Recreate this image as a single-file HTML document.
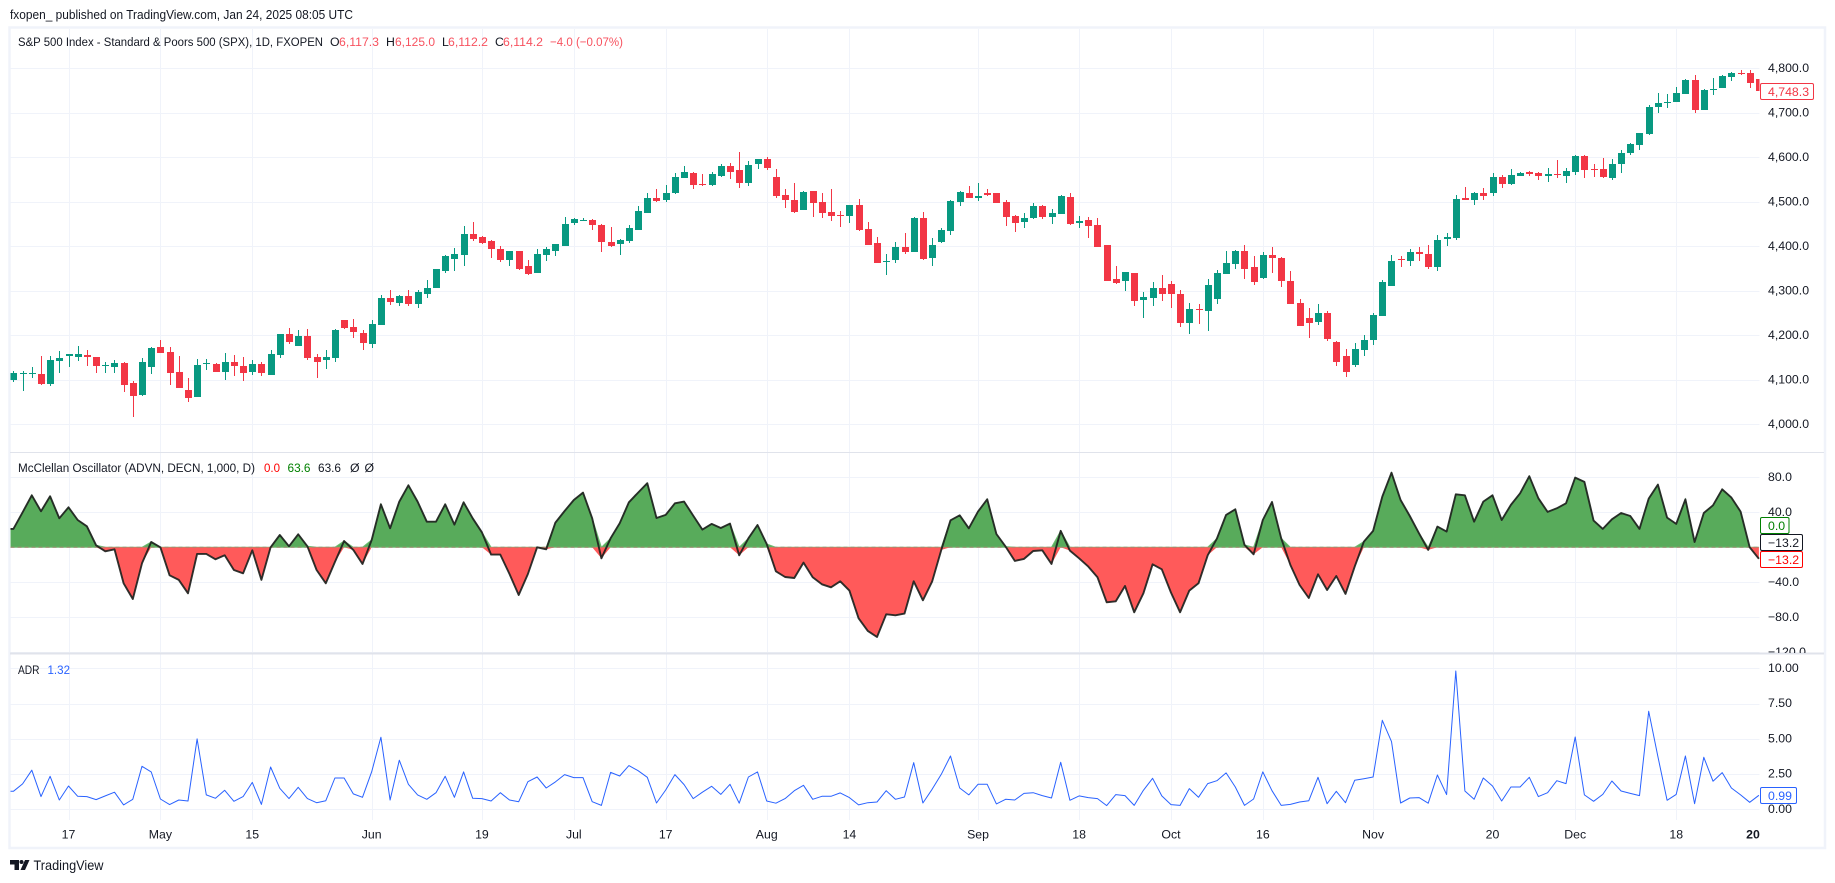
<!DOCTYPE html>
<html lang="en">
<head>
<meta charset="utf-8">
<title>S&amp;P 500 Index with McClellan Oscillator and ADR</title>
<style>
html,body{margin:0;padding:0;background:#fff;width:1835px;height:883px;overflow:hidden}
svg{display:block;font-family:"Liberation Sans",sans-serif}
text{fill:#131722;font-size:12.3px}
</style>
</head>
<body>
<svg id="chart" width="1835" height="883" viewBox="0 0 1835 883" xmlns="http://www.w3.org/2000/svg">
  <defs>
    <clipPath id="plot-clip"><rect x="10.5" y="29" width="1749" height="791"/></clipPath>
    <clipPath id="axis-clip"><rect x="1760" y="454" width="64" height="199"/></clipPath>
  </defs>
  <rect x="0" y="0" width="1835" height="883" fill="#ffffff"/>
  <text x="10" y="19" textLength="343" lengthAdjust="spacingAndGlyphs" style="font-size:13px">fxopen_ published on TradingView.com, Jan 24, 2025 08:05 UTC</text>

  <g id="grid"></g>

  <rect x="9.5" y="27.5" width="1815.5" height="320.5" fill="none" stroke="none"/>
  <path d="M9.5 27.5H1825V848H9.5Z" fill="none" stroke="#f0f3fa" stroke-width="2.5"/>
  <line x1="10" x2="1824" y1="452.5" y2="452.5" stroke="#e0e3eb" stroke-width="1"/>
  <line x1="10" x2="1824" y1="653.5" y2="653.5" stroke="#e0e3eb" stroke-width="2"/>

  <g id="candles" clip-path="url(#plot-clip)"></g>
  <g id="oscillator" clip-path="url(#plot-clip)"></g>
  <g id="adr" clip-path="url(#plot-clip)"></g>
  <g id="axes"></g>

  <g>
    <text x="18" y="46" textLength="305" lengthAdjust="spacingAndGlyphs">S&amp;P 500 Index - Standard &amp; Poors 500 (SPX), 1D, FXOPEN</text>
    <text x="330" y="46">O</text>
    <text x="339" y="46" textLength="40" lengthAdjust="spacingAndGlyphs" style="fill:#f7525f">6,117.3</text>
    <text x="386" y="46">H</text>
    <text x="395" y="46" textLength="40" lengthAdjust="spacingAndGlyphs" style="fill:#f7525f">6,125.0</text>
    <text x="442" y="46">L</text>
    <text x="448" y="46" textLength="40" lengthAdjust="spacingAndGlyphs" style="fill:#f7525f">6,112.2</text>
    <text x="495" y="46">C</text>
    <text x="503" y="46" textLength="40" lengthAdjust="spacingAndGlyphs" style="fill:#f7525f">6,114.2</text>
    <text x="550" y="46" textLength="73" lengthAdjust="spacingAndGlyphs" style="fill:#f7525f">−4.0 (−0.07%)</text>
  </g>
  <g>
    <text x="18" y="472" textLength="237" lengthAdjust="spacingAndGlyphs">McClellan Oscillator (ADVN, DECN, 1,000, D)</text>
    <text x="264" y="472" textLength="16" lengthAdjust="spacingAndGlyphs" style="fill:#ff0000">0.0</text>
    <text x="287.5" y="472" textLength="23" lengthAdjust="spacingAndGlyphs" style="fill:#008000">63.6</text>
    <text x="318" y="472" textLength="23" lengthAdjust="spacingAndGlyphs">63.6</text>
    <text x="350" y="472">Ø</text>
    <text x="364.5" y="472">Ø</text>
  </g>
  <g>
    <text x="18" y="674" textLength="21.5" lengthAdjust="spacingAndGlyphs">ADR</text>
    <text x="47.5" y="674" textLength="22.5" lengthAdjust="spacingAndGlyphs" style="fill:#2962ff">1.32</text>
  </g>

  <g>
    <rect x="1760.5" y="83.5" width="53" height="16" rx="1.5" fill="#fff" stroke="#f23645"/>
    <text x="1768" y="96" style="fill:#f23645">4,748.3</text>
    <rect x="1760.5" y="517.5" width="28.5" height="16" rx="1.5" fill="#fff" stroke="#008000"/>
    <text x="1768" y="530" style="fill:#008000">0.0</text>
    <rect x="1760.5" y="534.5" width="42" height="16" rx="1.5" fill="#fff" stroke="#131722"/>
    <text x="1768" y="547">−13.2</text>
    <rect x="1760.5" y="551.5" width="42" height="16" rx="1.5" fill="#fff" stroke="#ff0000"/>
    <text x="1768" y="564" style="fill:#ff0000">−13.2</text>
    <rect x="1760.5" y="787.5" width="36" height="16" rx="1.5" fill="#fff" stroke="#2962ff"/>
    <text x="1768" y="800" style="fill:#2962ff">0.99</text>
  </g>

  <g>
    <path d="M10 860h9v10h-4.5v-5.5H10z" fill="#131722"/>
    <circle cx="21.5" cy="862" r="2" fill="#131722"/>
    <path d="M29.5 860 25 870h-4.5L25 860z" fill="#131722"/>
    <text x="33.5" y="870" textLength="70" lengthAdjust="spacingAndGlyphs" style="font-size:14px">TradingView</text>
  </g>
</svg>

<script>
const opens = [
4100,4114,4114,4113,4091,4142,4154,4151,4156,4151,
4132,4129,4138,4093,4066,4129,4174,4163,4118,4077,
4061,4136,4136,4118,4140,4131,4118,4136,4111,4156,
4203,4176,4198,4151,4145,4149,4234,4219,4205,4180,
4223,4284,4273,4288,4271,4293,4306,4345,4372,4381,
4428,4421,4413,4395,4370,4390,4356,4340,4381,4390,
4401,4453,4457,4459,4448,4410,4405,4412,4437,4475,
4509,4504,4520,4554,4565,4540,4538,4558,4581,4572,
4542,4585,4596,4556,4515,4504,4482,4524,4500,4477,
4470,4468,4493,4439,4407,4365,4369,4398,4387,4464,
4374,4410,4434,4500,4520,4509,4520,4520,4500,4468,
4455,4464,4491,4466,4473,4511,4452,4459,4448,4403,
4327,4322,4340,4279,4284,4306,4315,4293,4228,4259,
4255,4282,4338,4360,4390,4354,4329,4381,4374,4322,
4273,4239,4230,4250,4185,4154,4133,4167,4190,4244,
4311,4372,4367,4387,4383,4354,4417,4419,4509,4504,
4520,4520,4556,4540,4558,4567,4565,4558,4563,4558,
4567,4603,4574,4574,4554,4585,4610,4628,4652,4713,
4721,4724,4742,4774,4706,4751,4756,4781,4790,4790,4776];
const highs = [
4120,4120,4129,4154,4154,4165,4157,4176,4167,4151,
4140,4145,4140,4097,4149,4174,4190,4174,4154,4104,
4147,4147,4138,4160,4156,4151,4145,4140,4167,4203,
4216,4212,4214,4158,4167,4214,4234,4237,4212,4234,
4291,4302,4291,4302,4302,4324,4349,4381,4397,4446,
4455,4424,4415,4401,4390,4390,4370,4393,4399,4406,
4466,4464,4464,4462,4450,4443,4416,4448,4491,4520,
4529,4538,4565,4581,4567,4563,4567,4585,4587,4612,
4592,4596,4601,4574,4529,4542,4524,4524,4520,4529,
4479,4493,4506,4455,4421,4383,4410,4430,4466,4477,
4419,4441,4504,4524,4536,4542,4529,4520,4504,4470,
4475,4497,4493,4484,4515,4520,4468,4466,4464,4403,
4356,4342,4340,4297,4320,4336,4322,4302,4273,4270,
4327,4347,4390,4392,4403,4378,4387,4399,4376,4345,
4282,4261,4270,4255,4187,4169,4183,4201,4250,4324,
4381,4378,4394,4399,4403,4425,4430,4515,4533,4522,
4531,4565,4560,4574,4567,4569,4567,4576,4594,4576,
4605,4605,4585,4599,4596,4617,4632,4655,4718,4745,
4742,4758,4776,4785,4754,4778,4785,4792,4796,4796,4776];
const lows = [
4095,4075,4105,4089,4086,4115,4127,4142,4131,4115,
4115,4115,4073,4016,4064,4113,4160,4088,4082,4050,
4061,4122,4118,4100,4109,4097,4111,4109,4111,4149,
4180,4176,4145,4104,4124,4140,4214,4194,4167,4171,
4223,4268,4266,4266,4262,4284,4306,4340,4345,4355,
4412,4405,4375,4366,4356,4347,4336,4338,4368,4379,
4401,4448,4457,4437,4387,4398,4381,4408,4437,4475,
4500,4500,4518,4554,4529,4536,4536,4556,4551,4531,
4536,4574,4572,4509,4486,4475,4482,4466,4464,4457,
4443,4452,4434,4403,4363,4336,4363,4383,4387,4369,
4356,4407,4425,4491,4509,4502,4513,4497,4446,4432,
4441,4461,4461,4450,4473,4448,4441,4419,4398,4322,
4315,4300,4266,4239,4266,4277,4262,4219,4203,4225,
4210,4270,4338,4349,4327,4313,4327,4340,4309,4270,
4221,4194,4223,4187,4131,4106,4129,4154,4178,4244,
4311,4354,4356,4367,4349,4345,4401,4414,4504,4493,
4504,4513,4531,4538,4558,4558,4549,4545,4554,4542,
4560,4554,4556,4554,4549,4565,4605,4617,4650,4700,
4711,4724,4742,4700,4706,4740,4756,4772,4785,4756,4748];
const closes = [
4115,4115,4115,4091,4145,4149,4157,4158,4151,4131,
4133,4138,4088,4064,4140,4172,4160,4115,4082,4059,
4133,4138,4118,4140,4131,4115,4136,4115,4158,4203,
4185,4198,4149,4140,4151,4212,4216,4207,4183,4225,
4284,4275,4288,4271,4297,4306,4349,4379,4383,4428,
4417,4408,4393,4370,4390,4349,4338,4383,4393,4406,
4451,4462,4459,4448,4410,4401,4414,4441,4479,4509,
4502,4520,4556,4567,4538,4538,4563,4581,4567,4542,
4583,4596,4576,4513,4504,4477,4522,4497,4475,4468,
4468,4493,4437,4403,4363,4367,4398,4387,4464,4372,
4403,4437,4502,4522,4509,4513,4515,4497,4466,4452,
4464,4491,4466,4475,4513,4450,4457,4446,4398,4322,
4318,4342,4277,4286,4306,4293,4293,4228,4259,4257,
4313,4340,4363,4390,4349,4320,4381,4374,4322,4270,
4221,4228,4250,4192,4140,4118,4169,4190,4246,4320,
4367,4369,4387,4383,4354,4414,4421,4506,4504,4520,
4513,4556,4540,4560,4565,4563,4558,4563,4560,4569,
4603,4572,4572,4556,4585,4610,4630,4655,4713,4722,
4724,4745,4774,4706,4751,4754,4783,4790,4787,4767,4748];
const oscillatorValues = [
21.0,40.0,59.4,41.1,58.3,33.1,45.7,31.2,24.0,2.3,
-4.6,-2.3,-41.1,-59.1,-18.3,6.1,0,-32.0,-37.3,-52.6,
-7.6,-7.6,-13.7,-9.1,-25.9,-29.7,-3.4,-37.3,0,14.1,
1.1,14.9,1.1,-25.9,-41.1,-16.8,7.2,-3.0,-19.1,8.4,
49.1,21.7,52.2,70.9,52.2,29.3,29.3,49.1,25.9,51.4,
33.1,17.1,-8.4,-8.4,-30.5,-54.5,-30.5,0,-2.3,28.2,
41.5,54.1,62.5,33.1,-12.6,10.3,27.4,51.4,62.5,73.2,
33.5,37.0,50.3,52.2,36.2,20.2,26.7,22.1,27.1,-9.1,
10.3,25.5,3.8,-27.4,-33.9,-35.1,-17.5,-34.3,-42.3,-45.7,
-38.9,-49.5,-81.2,-95.6,-102.5,-76.6,-77.7,-75.8,-38.9,-60.6,
-39.2,-3.0,30.9,36.6,21.7,40.8,54.9,15.2,0.8,-15.6,
-13.3,-4.2,-3.4,-19.1,18.7,-3.8,-12.6,-22.1,-34.3,-62.9,
-61.7,-44.2,-74.3,-52.6,-19.4,-25.1,-51.8,-74.3,-49.5,-41.1,
-9.1,9.9,37.0,43.4,2.7,-8.0,31.2,51.8,10.3,-20.2,
-43.1,-58.0,-30.9,-48.8,-32.8,-53.3,-22.1,6.5,18.7,57.9,
85.3,54.1,35.8,16.0,-3.0,23.6,17.9,60.6,59.4,29.3,
52.2,59.4,31.2,48.4,61.7,81.2,56.0,40.4,44.6,50.3,
79.6,74.7,30.5,21.0,32.0,39.2,35.8,21.0,55.6,71.6,
33.9,26.7,54.9,6.1,39.2,48.0,66.3,56.8,40.8,0,-13.2];
const adrValues = [
1.28,1.80,2.77,0.90,2.34,0.66,1.65,0.92,0.90,0.69,
0.95,1.21,0.31,0.71,3.05,2.65,0.73,0.33,0.66,0.59,
4.99,1.02,0.78,1.35,0.57,0.90,1.91,0.35,3.00,1.49,
0.76,1.56,0.76,0.47,0.61,2.22,2.22,1.09,0.85,2.67,
5.11,0.66,3.48,1.77,1.02,0.71,1.18,2.34,0.85,2.65,
0.78,0.76,0.59,1.18,0.66,0.54,1.96,2.29,1.51,1.94,
2.46,2.25,2.25,0.54,0.28,2.62,2.36,3.10,2.74,2.27,
0.45,1.37,2.46,1.75,0.76,1.21,1.63,1.06,1.77,0.43,
2.29,2.65,0.59,0.43,0.76,1.32,1.70,0.71,0.92,0.92,
1.16,0.83,0.31,0.47,0.52,1.32,0.71,0.87,3.31,0.45,
1.42,2.48,3.78,1.51,1.02,1.77,1.77,0.38,0.71,0.66,
1.13,1.18,0.97,0.80,3.33,0.64,0.95,0.83,0.76,0.26,
1.04,0.97,0.28,1.35,2.20,0.95,0.33,0.28,1.47,0.85,
1.82,2.03,2.58,1.58,0.28,0.73,2.65,1.32,0.28,0.35,
0.52,0.61,2.27,0.40,1.28,0.47,2.06,2.17,2.29,6.31,
4.80,0.45,0.80,0.83,0.43,2.43,1.04,9.81,1.30,0.71,
2.22,1.65,0.59,1.58,1.58,2.27,0.90,1.18,2.03,1.82,
5.13,1.02,0.57,1.06,2.01,1.30,1.13,0.97,6.95,3.74,
0.64,1.06,3.78,0.40,3.69,1.99,2.60,1.51,1.02,0.50,0.99];
const timeTickBars = [6,16,26,39,51,61,71,82,91,105,116,126,136,148,161,170,181,190];
const timeTickLabels = ["17","May","15","Jun","19","Jul","17","Aug","14","Sep","18","Oct","16","Nov","20","Dec","18","20"];
const priceTicks = [4800,4700,4600,4500,4400,4300,4200,4100,4000];
const priceTickLabels = ["4,800.0","4,700.0","4,600.0","4,500.0","4,400.0","4,300.0","4,200.0","4,100.0","4,000.0"];
const oscillatorTicks = [80,40,0,-40,-80,-120];
const oscillatorTickLabels = ["80.0","40.0","","−40.0","−80.0","−120.0"];
const adrTicks = [10,7.5,5,2.5,0];
const adrTickLabels = ["10.00","7.50","5.00","2.50","0.00"];

const NS = "http://www.w3.org/2000/svg";
const plotLeft = 10.5;
const plotRight = 1759.5;
const barX = i => 13.4 + 9.187 * i;
const priceY = p => 68.3 + (4800 - p) * 0.445;
const oscY = v => 547.3 - v * 0.875;
const adrY = v => 809.3 - v * 14.1;

const gridLayer = document.getElementById("grid");
const candleLayer = document.getElementById("candles");
const oscLayer = document.getElementById("oscillator");
const adrLayer = document.getElementById("adr");
const axesLayer = document.getElementById("axes");

timeTickBars.forEach((bar, k) => {
  const x = Math.round(barX(bar)) + 0.5;
  if (k < timeTickBars.length - 1) {
    const v = document.createElementNS(NS, "line");
    
    
    v.setAttribute("x1", x);
    v.setAttribute("x2", x);
    v.setAttribute("y1", 29);
    v.setAttribute("y2", 820);
    v.setAttribute("stroke", "#f0f3fa");
    gridLayer.appendChild(v);
  }
  const t = document.createElementNS(NS, "text");
  
  
  t.setAttribute("x", Math.min(barX(bar), plotRight - 6.5));
  t.setAttribute("y", 838.5);
  t.setAttribute("text-anchor", "middle");
  if (k === timeTickBars.length - 1) t.setAttribute("font-weight", "700");
  t.textContent = timeTickLabels[k];
  axesLayer.appendChild(t);
});

function addHorizontal(ticks, labels, yFn, name, clip) {
  ticks.forEach((tick, k) => {
    const y = Math.round(yFn(tick)) + 0.5;
    const g = document.createElementNS(NS, "line");
    
    
    g.setAttribute("x1", plotLeft);
    g.setAttribute("x2", plotRight);
    g.setAttribute("y1", y);
    g.setAttribute("y2", y);
    g.setAttribute("stroke", "#f0f3fa");
    if (y < 653) gridLayer.appendChild(g);
    if (y >= 653 && yFn === adrY) gridLayer.appendChild(g);
    if (!labels[k]) return;
    const t = document.createElementNS(NS, "text");
    
    
    t.setAttribute("x", 1768);
    t.setAttribute("y", yFn(tick) + 3.6);
    if (clip) t.setAttribute("clip-path", "url(#axis-clip)");
    t.textContent = labels[k];
    axesLayer.appendChild(t);
  });
}
addHorizontal(priceTicks, priceTickLabels, priceY, "price", false);
addHorizontal(oscillatorTicks, oscillatorTickLabels, oscY, "oscillator", true);
addHorizontal(adrTicks, adrTickLabels, adrY, "adr", false);

opens.forEach((open, i) => {
  const close = closes[i];
  const up = close >= open;
  const color = up ? "#089981" : "#f23645";
  const cx = Math.round(barX(i));
  const wick = document.createElementNS(NS, "rect");
  
  
  wick.setAttribute("x", cx);
  wick.setAttribute("width", 1);
  wick.setAttribute("y", Math.round(priceY(highs[i])));
  wick.setAttribute("height", Math.max(1, Math.round(priceY(lows[i]) - priceY(highs[i]))));
  wick.setAttribute("fill", color);
  candleLayer.appendChild(wick);
  const body = document.createElementNS(NS, "rect");
  const top = Math.round(priceY(Math.max(open, close)));
  const bottom = Math.round(priceY(Math.min(open, close)));
  
  
  body.setAttribute("x", cx - 3);
  body.setAttribute("width", 7);
  body.setAttribute("y", top);
  body.setAttribute("height", Math.max(1, bottom - top));
  body.setAttribute("fill", color);
  candleLayer.appendChild(body);
});

function buildPoints(values, yFn) {
  const pts = values.map((v, i) => barX(i).toFixed(1) + "," + yFn(v).toFixed(1));
  pts.unshift(plotLeft + "," + yFn(values[0]).toFixed(1));
  return pts;
}
const zeroY = oscY(0).toFixed(1);
const lastX = barX(oscillatorValues.length - 1).toFixed(1);

const greenArea = document.createElementNS(NS, "polygon");


greenArea.setAttribute("points", [plotLeft + "," + zeroY].concat(buildPoints(oscillatorValues.map(v => Math.max(0, v)), oscY), [lastX + "," + zeroY]).join(" "));
greenArea.setAttribute("fill", "#58ab5b");
greenArea.setAttribute("stroke", "#6dbb70");
greenArea.setAttribute("stroke-width", "1");
oscLayer.appendChild(greenArea);

const redArea = document.createElementNS(NS, "polygon");


redArea.setAttribute("points", [plotLeft + "," + zeroY].concat(buildPoints(oscillatorValues.map(v => Math.min(0, v)), oscY), [lastX + "," + zeroY]).join(" "));
redArea.setAttribute("fill", "#ff5a5a");
oscLayer.appendChild(redArea);

const zeroLine = document.createElementNS(NS, "line");


zeroLine.setAttribute("x1", plotLeft);
zeroLine.setAttribute("x2", plotRight);
zeroLine.setAttribute("y1", zeroY);
zeroLine.setAttribute("y2", zeroY);
zeroLine.setAttribute("stroke", "#a08a70");
zeroLine.setAttribute("stroke-width", "1");
zeroLine.setAttribute("stroke-dasharray", "4 3");
oscLayer.appendChild(zeroLine);

const oscLine = document.createElementNS(NS, "polyline");


oscLine.setAttribute("points", buildPoints(oscillatorValues, oscY).join(" "));
oscLine.setAttribute("fill", "none");
oscLine.setAttribute("stroke", "#1e221e");
oscLine.setAttribute("stroke-opacity", "0.92");
oscLine.setAttribute("stroke-width", "1.9");
oscLine.setAttribute("stroke-linejoin", "round");
oscLayer.appendChild(oscLine);

const adrLine = document.createElementNS(NS, "polyline");


adrLine.setAttribute("points", buildPoints(adrValues, adrY).join(" "));
adrLine.setAttribute("fill", "none");
adrLine.setAttribute("stroke", "#2962ff");
adrLine.setAttribute("stroke-width", "1");
adrLine.setAttribute("stroke-linejoin", "round");
adrLayer.appendChild(adrLine);
</script>
</body>
</html>
